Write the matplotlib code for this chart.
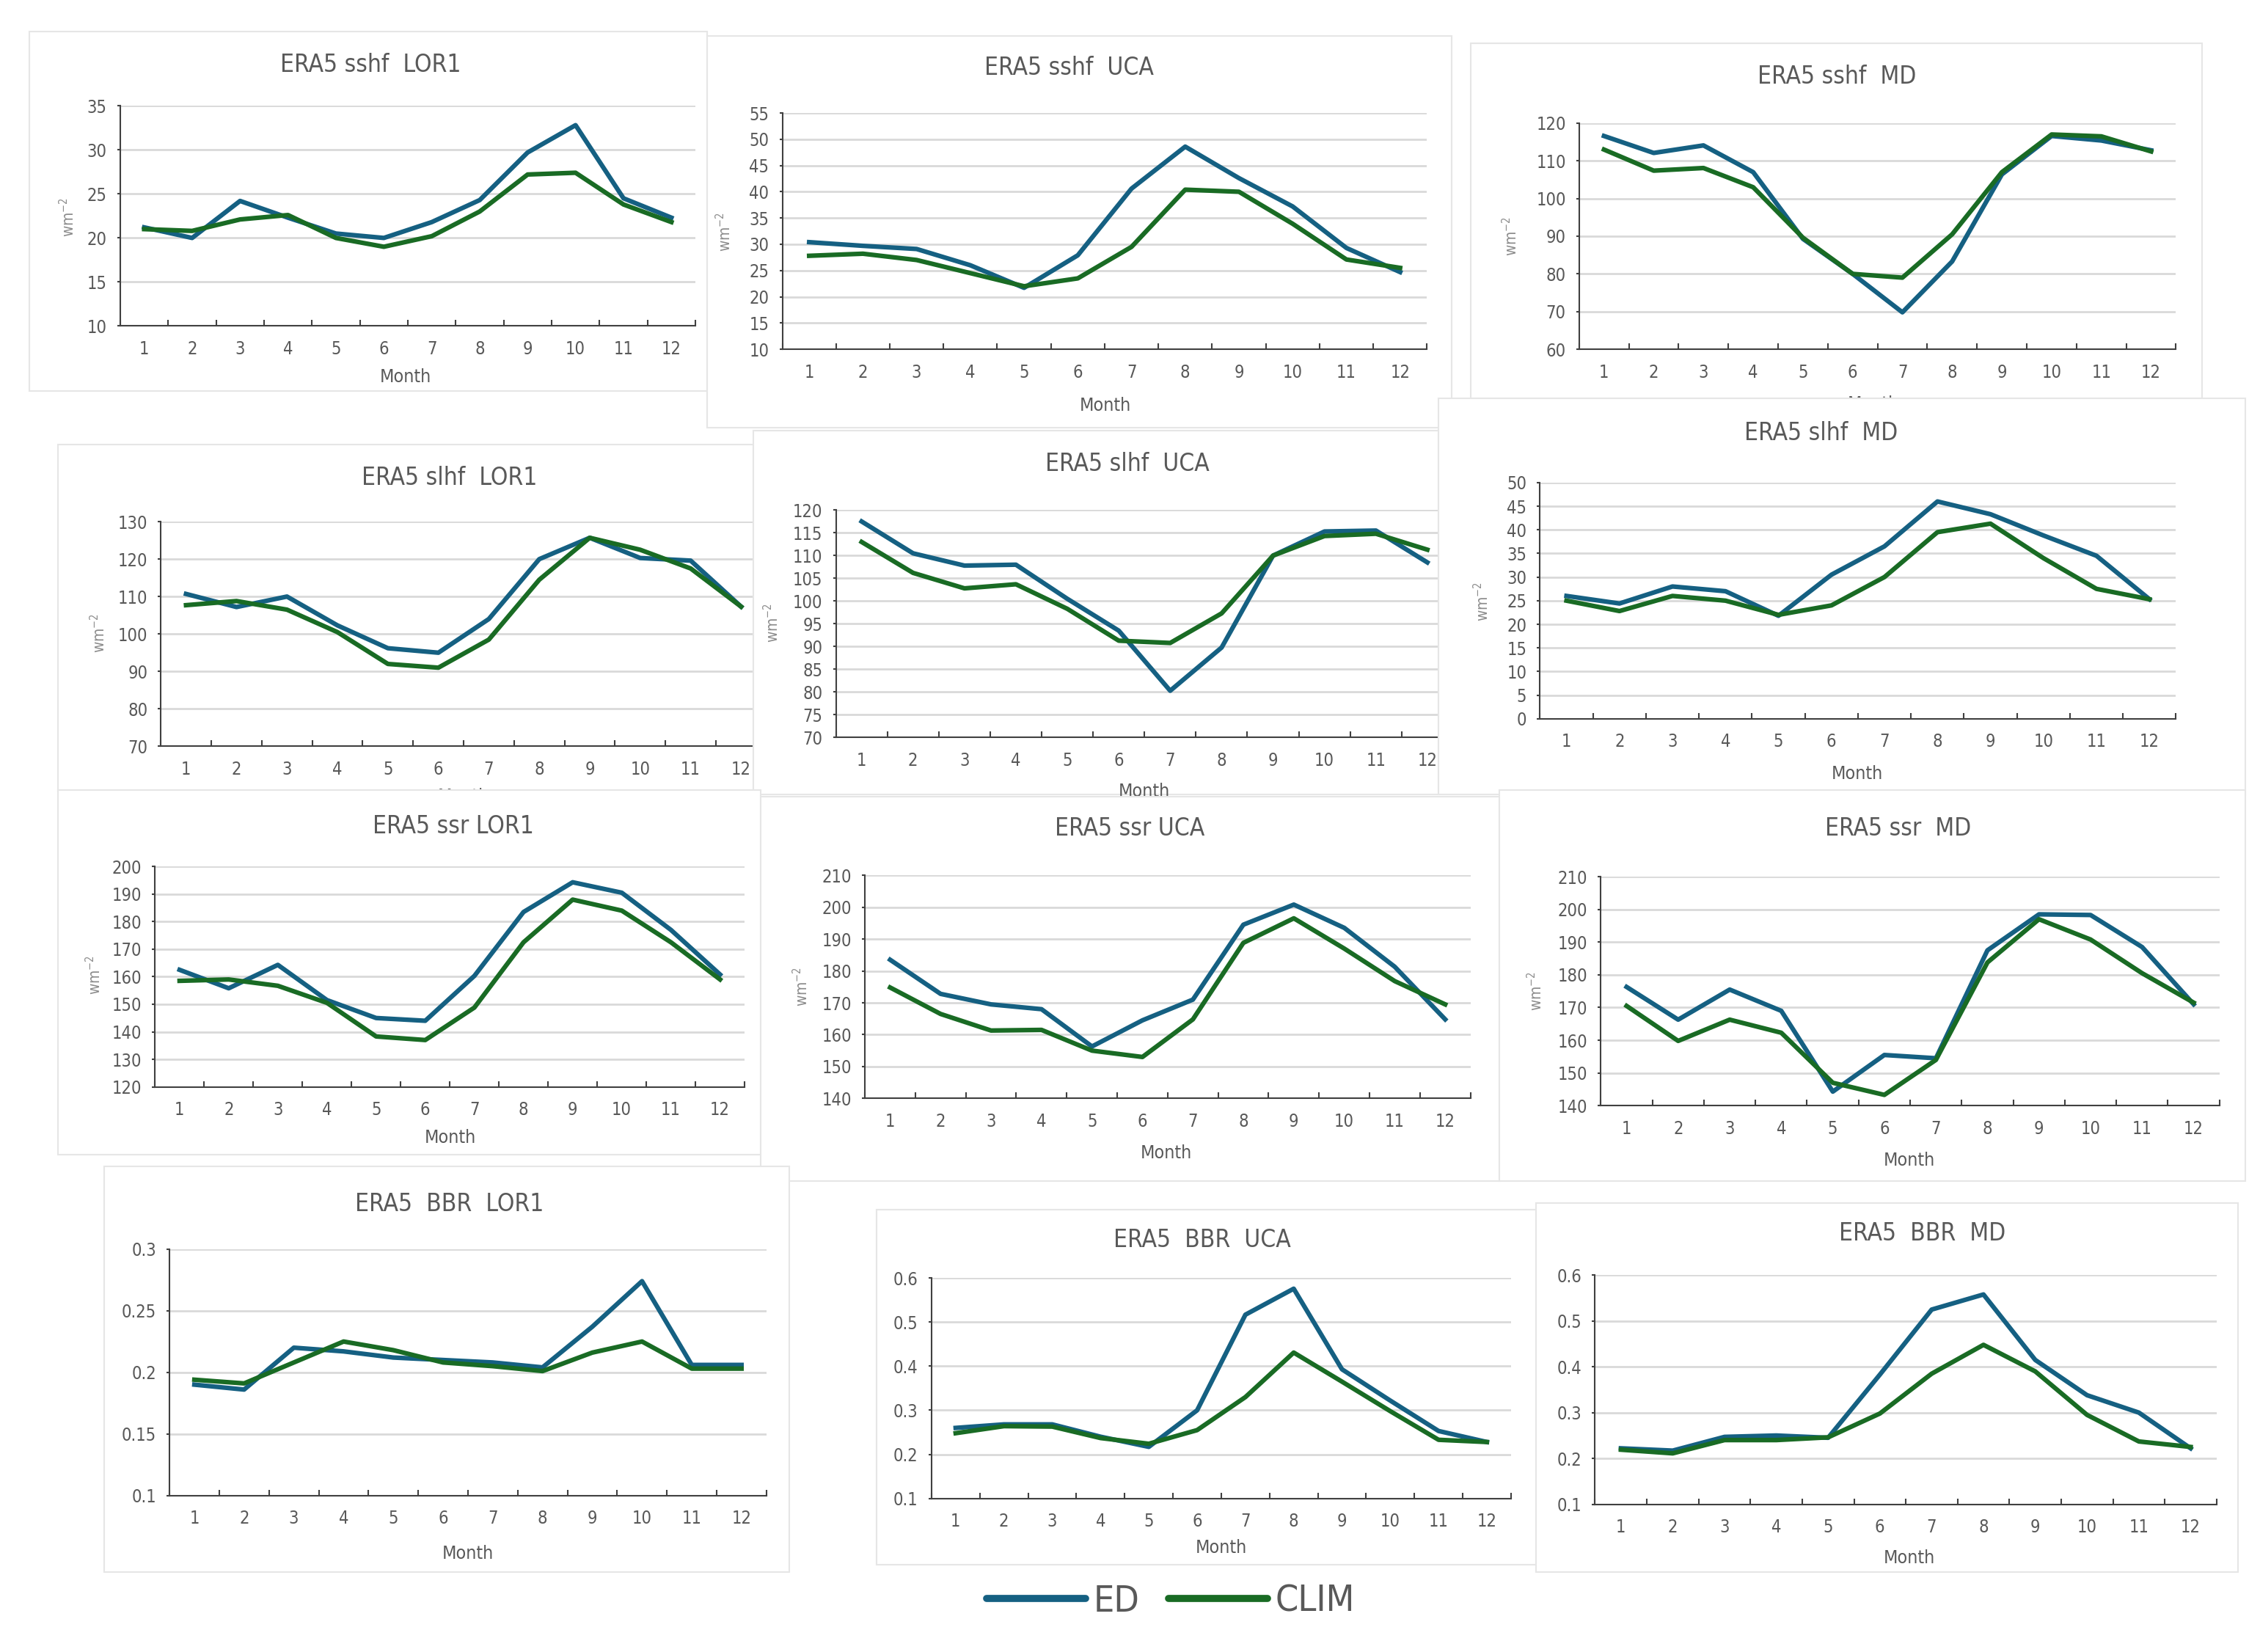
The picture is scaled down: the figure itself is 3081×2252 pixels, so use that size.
import matplotlib
matplotlib.use("Agg")
from matplotlib import pyplot as plt
from matplotlib.patches import Rectangle
from matplotlib.lines import Line2D
from matplotlib.ticker import FuncFormatter

plt.rcParams['font.family'] = ['Liberation Sans Narrow', 'DejaVu Sans']
plt.rcParams['font.stretch'] = 'condensed'

months = list(range(1, 13))

# values (ED = blue, CLIM = green)
sshf_lor1_ed = [21.2, 20.0, 24.2, 22.3, 20.5, 20.0, 21.8, 24.3, 29.7, 32.8, 24.5, 22.3]
sshf_lor1_clim = [21.0, 20.8, 22.1, 22.6, 20.0, 19.0, 20.2, 23.0, 27.2, 27.4, 23.8, 21.8]
sshf_uca_ed = [30.4, 29.7, 29.1, 26.0, 21.7, 27.9, 40.6, 48.6, 42.6, 37.2, 29.3, 24.7]
sshf_uca_clim = [27.8, 28.2, 27.0, 24.5, 22.0, 23.5, 29.5, 40.4, 40.0, 33.9, 27.1, 25.5]
sshf_md_ed = [116.6, 112.1, 114.1, 107.0, 89.3, 80.0, 69.8, 83.3, 106.4, 116.6, 115.4, 112.8]
sshf_md_clim = [113.0, 107.4, 108.1, 103.0, 89.6, 80.0, 79.0, 90.5, 107.0, 117.0, 116.5, 112.5]

slhf_lor1_ed = [110.7, 107.2, 110.0, 102.3, 96.2, 95.0, 104.0, 120.0, 125.7, 120.3, 119.6, 107.3]
slhf_lor1_clim = [107.7, 108.8, 106.5, 100.5, 92.0, 91.0, 98.5, 114.5, 125.7, 122.5, 117.5, 107.3]
slhf_uca_ed = [117.5, 110.5, 107.8, 108.0, 100.5, 93.5, 80.3, 89.8, 110.0, 115.3, 115.5, 108.5]
slhf_uca_clim = [113.0, 106.2, 102.8, 103.7, 98.3, 91.3, 90.8, 97.3, 110.0, 114.3, 114.8, 111.3]
slhf_md_ed = [26.0, 24.4, 28.0, 27.0, 21.8, 30.5, 36.5, 46.0, 43.3, 38.8, 34.5, 25.3]
slhf_md_clim = [25.0, 22.8, 26.0, 25.0, 22.0, 24.0, 30.0, 39.5, 41.3, 34.0, 27.5, 25.3]

ssr_lor1_ed = [162.5, 155.8, 164.3, 151.5, 145.0, 144.0, 160.3, 183.5, 194.3, 190.5, 177.0, 160.8]
ssr_lor1_clim = [158.5, 159.0, 156.7, 150.5, 138.3, 137.0, 148.8, 172.5, 188.0, 184.0, 172.5, 159.0]
ssr_uca_ed = [183.5, 172.8, 169.5, 168.0, 156.3, 164.5, 171.0, 194.5, 200.8, 193.5, 181.3, 164.8]
ssr_uca_clim = [174.8, 166.5, 161.3, 161.5, 155.0, 153.0, 164.8, 188.8, 196.5, 187.0, 176.8, 169.5]
ssr_md_ed = [176.3, 166.3, 175.5, 169.0, 144.3, 155.5, 154.5, 187.5, 198.5, 198.3, 188.5, 171.0]
ssr_md_clim = [170.5, 159.8, 166.3, 162.3, 147.0, 143.3, 154.0, 183.8, 197.0, 190.8, 180.5, 171.5]

bbr_lor1_ed = [0.190, 0.186, 0.220, 0.217, 0.212, 0.210, 0.208, 0.204, 0.237, 0.274, 0.206, 0.206]
bbr_lor1_clim = [0.194, 0.191, 0.208, 0.225, 0.218, 0.208, 0.205, 0.201, 0.216, 0.225, 0.203, 0.203]
bbr_uca_ed = [0.260, 0.268, 0.268, 0.240, 0.217, 0.300, 0.517, 0.576, 0.393, 0.322, 0.253, 0.228]
bbr_uca_clim = [0.248, 0.264, 0.263, 0.237, 0.224, 0.255, 0.330, 0.431, 0.365, 0.298, 0.233, 0.228]
bbr_md_ed = [0.222, 0.217, 0.247, 0.250, 0.245, 0.383, 0.525, 0.558, 0.415, 0.338, 0.300, 0.222]
bbr_md_clim = [0.219, 0.211, 0.240, 0.240, 0.246, 0.298, 0.385, 0.448, 0.390, 0.295, 0.237, 0.225]

titles = ["ERA5 sshf  LOR1", "ERA5 sshf  UCA", "ERA5 sshf  MD",
          "ERA5 slhf  LOR1", "ERA5 slhf  UCA", "ERA5 slhf  MD",
          "ERA5 ssr LOR1", "ERA5 ssr UCA", "ERA5 ssr  MD",
          "ERA5  BBR  LOR1", "ERA5  BBR  UCA", "ERA5  BBR  MD"]
ed_series = [sshf_lor1_ed, sshf_uca_ed, sshf_md_ed, slhf_lor1_ed, slhf_uca_ed, slhf_md_ed,
             ssr_lor1_ed, ssr_uca_ed, ssr_md_ed, bbr_lor1_ed, bbr_uca_ed, bbr_md_ed]
clim_series = [sshf_lor1_clim, sshf_uca_clim, sshf_md_clim, slhf_lor1_clim, slhf_uca_clim, slhf_md_clim,
               ssr_lor1_clim, ssr_uca_clim, ssr_md_clim, bbr_lor1_clim, bbr_uca_clim, bbr_md_clim]
y_ticks = [[10, 15, 20, 25, 30, 35],
           [10, 15, 20, 25, 30, 35, 40, 45, 50, 55],
           [60, 70, 80, 90, 100, 110, 120],
           [70, 80, 90, 100, 110, 120, 130],
           [70, 75, 80, 85, 90, 95, 100, 105, 110, 115, 120],
           [0, 5, 10, 15, 20, 25, 30, 35, 40, 45, 50],
           [120, 130, 140, 150, 160, 170, 180, 190, 200],
           [140, 150, 160, 170, 180, 190, 200, 210],
           [140, 150, 160, 170, 180, 190, 200, 210],
           [0.1, 0.15, 0.2, 0.25, 0.3],
           [0.1, 0.2, 0.3, 0.4, 0.5, 0.6],
           [0.1, 0.2, 0.3, 0.4, 0.5, 0.6]]
has_unit = [True] * 9 + [False] * 3

# layout of the collage, in a 1560 x 1140 reference grid
W, H = 1560.0, 1140.0
frames = [(20, 22, 488, 270), (488, 25, 1002, 295), (1015, 30, 1520, 275),
          (40, 307, 520, 545), (520, 297, 993, 548), (993, 275, 1550, 548),
          (40, 545, 525, 797), (525, 550, 1035, 815), (1035, 545, 1550, 815),
          (72, 805, 545, 1085), (605, 835, 1060, 1080), (1060, 830, 1545, 1085)]
boxes = [(83, 73, 480, 225), (540, 78, 985, 241), (1090, 85, 1502, 241),
         (111, 360, 529, 515), (577, 352, 1003, 509), (1063, 333, 1502, 496),
         (107, 598, 514, 750), (597, 604, 1015, 758), (1105, 605, 1532, 763),
         (117, 862, 529, 1032), (643, 882, 1043, 1034), (1101, 880, 1530, 1038)]
title_pos = [(256, 45), (738, 47), (1268, 53), (310, 330), (778, 320), (1257, 299),
             (313, 570), (780, 572), (1310, 572), (310, 831), (830, 856), (1327, 851)]
month_pos = [(280, 260), (763, 280), (1293, 279), (320, 550), (790, 546), (1282, 534),
             (311, 785), (805, 796), (1318, 801), (323, 1072), (843, 1068), (1318, 1075)]
unit_pos = [(47, 150), (500, 160), (1043, 163), (68, 437), (533, 430), (1023, 415),
            (65, 673), (553, 681), (1060, 684)]

BLUE = "#156082"
GREEN = "#196B24"
TXT = "#595959"


def fx(x):
    return x / W


def fy(y):
    return 1 - y / H


fig = plt.figure(figsize=(30.81, 22.52), dpi=100)

for i in range(12):
    l, t, r, b = frames[i]
    fig.patches.append(Rectangle((fx(l), fy(b)), fx(r) - fx(l), fy(t) - fy(b),
                                 transform=fig.transFigure, facecolor="white",
                                 edgecolor="#e6e6e6", linewidth=1.5, zorder=2 * i + 1))
    l, t, r, b = boxes[i]
    ax = fig.add_axes([fx(l), fy(b), fx(r) - fx(l), fy(t) - fy(b)], zorder=2 * i + 2)
    ax.patch.set_alpha(0)
    ax.plot(months, ed_series[i], color=BLUE, linewidth=4.5, zorder=3)
    ax.plot(months, clim_series[i], color=GREEN, linewidth=4.5, zorder=3)
    yt = y_ticks[i]
    ax.set_ylim(yt[0], yt[-1])
    ax.set_xlim(0.5, 12.5)
    ax.set_yticks(yt)
    ax.yaxis.set_major_formatter(FuncFormatter(lambda v, p: f"{v:g}"))
    ax.set_xticks(months)
    ax.set_xticks([m + 0.5 for m in [0] + months], minor=True)
    ax.tick_params(axis="x", which="major", length=0, pad=14, labelsize=17, labelcolor=TXT)
    ax.tick_params(axis="x", which="minor", direction="in", length=6, width=1.5, color="#404040")
    ax.tick_params(axis="y", direction="out", length=3, width=1.5, color="#404040",
                   pad=10, labelsize=17, labelcolor=TXT)
    ax.grid(axis="y", color="#d9d9d9", linewidth=2)
    ax.set_axisbelow(True)
    for s in ["top", "right"]:
        ax.spines[s].set_visible(False)
    for s in ["left", "bottom"]:
        ax.spines[s].set_color("#404040")
        ax.spines[s].set_linewidth(1.5)
    tx, ty = title_pos[i]
    ax.text(fx(tx), fy(ty), titles[i], transform=fig.transFigure, ha="center", va="center",
            fontsize=24, color=TXT, clip_on=False)
    mx, my = month_pos[i]
    ax.text(fx(mx), fy(my), "Month", transform=fig.transFigure, ha="center", va="center",
            fontsize=18, color=TXT, clip_on=False)
    if has_unit[i]:
        ux, uy = unit_pos[i]
        ax.text(fx(ux), fy(uy), "wm$^{-2}$", transform=fig.transFigure, ha="center",
                va="center", rotation=90, fontsize=15, color="#8c8c8c", clip_on=False)

handles = [Line2D([], [], color=BLUE, linewidth=7, solid_capstyle="round"),
           Line2D([], [], color=GREEN, linewidth=7, solid_capstyle="round")]
leg = fig.legend(handles, ["ED", "CLIM"], loc="center", bbox_to_anchor=(fx(808), fy(1105)),
                 ncol=2, frameon=False, fontsize=36, handlelength=2.7, handletextpad=0.2,
                 columnspacing=0.8, labelcolor=TXT)
leg.set_zorder(40)

fig.savefig("out.png", dpi=100, facecolor="white")
